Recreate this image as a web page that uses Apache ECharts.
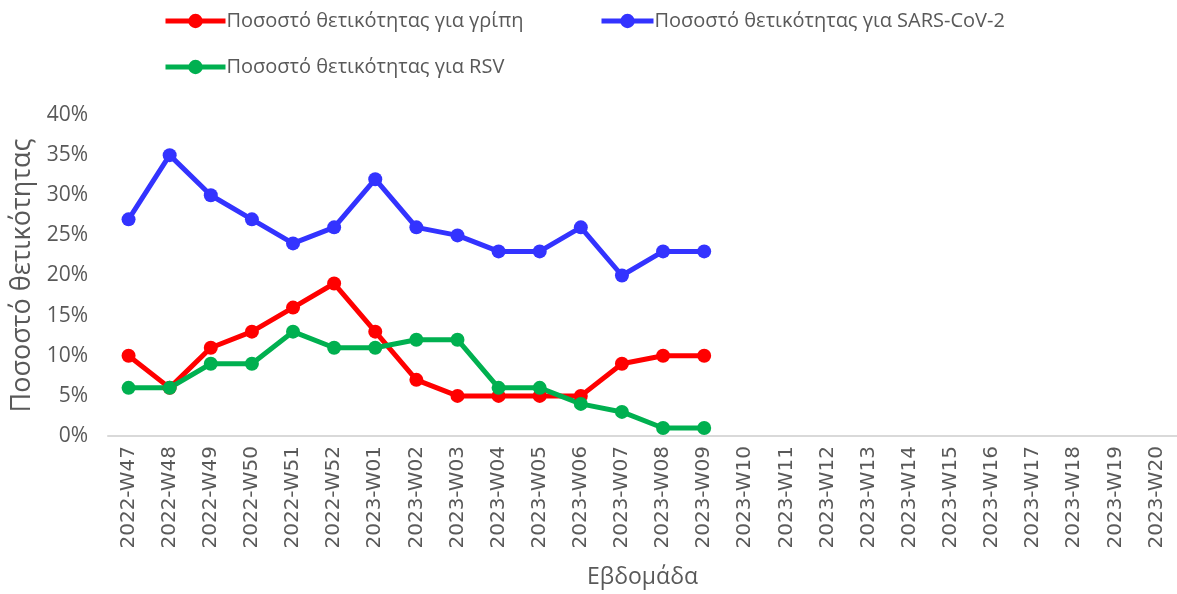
<!DOCTYPE html>
<html>
<head>
<meta charset="utf-8">
<script src="https://cdn.jsdelivr.net/npm/echarts@6/dist/echarts.min.js"></script>
<style>
  html, body { margin: 0; padding: 0; background: #fff; }
  #chart { width: 1177px; height: 594px; }
</style>
</head>
<body>
<div id="chart"></div>
<script>
// weeks on the x axis
const weeks = [
  '2022-W47', '2022-W48', '2022-W49', '2022-W50', '2022-W51', '2022-W52',
  '2023-W01', '2023-W02', '2023-W03', '2023-W04', '2023-W05', '2023-W06',
  '2023-W07', '2023-W08', '2023-W09', '2023-W10', '2023-W11', '2023-W12',
  '2023-W13', '2023-W14', '2023-W15', '2023-W16', '2023-W17', '2023-W18',
  '2023-W19', '2023-W20'
];

// positivity, percent
const fluValues = [10, 6, 11, 13, 16, 19, 13, 7, 5, 5, 5, 5, 9, 10, 10];
const sarsValues = [27, 35, 30, 27, 24, 26, 32, 26, 25, 23, 23, 26, 20, 23, 23];
const rsvValues = [6, 6, 9, 9, 13, 11, 11, 12, 12, 6, 6, 4, 3, 1, 1];

const fluName = 'Ποσοστό θετικότητας για γρίπη';
const sarsName = 'Ποσοστό θετικότητας για SARS-CoV-2';
const rsvName = 'Ποσοστό θετικότητας για RSV';

const font = '"Open Sans", "Noto Sans", sans-serif';
const textColor = '#595959';

const chart = echarts.init(document.getElementById('chart'));

function lineSeries(name, values, color) {
  return {
    name,
    type: 'line',
    data: values,
    symbol: 'circle',
    symbolSize: 14,
    lineStyle: { color, width: 5 },
    itemStyle: { color },
    z: 3
  };
}

// one legend per item so each can sit where it does in the picture
function legendAt(name, left, top, itemWidth) {
  return {
    data: [name],
    left,
    top,
    itemWidth,
    itemHeight: 18,
    lineStyle: { width: 5 },
    textStyle: { color: textColor, fontSize: 20, fontFamily: font, padding: [0, 0, 0, -4] }
  };
}

chart.setOption({
  backgroundColor: '#fff',
  animation: false,
  legend: [
    legendAt(fluName, 158, 6, 60),
    legendAt(sarsName, 594, 6, 52),
    legendAt(rsvName, 158, 52, 60)
  ],
  grid: { left: 108, right: 0, top: 115, bottom: 157 },
  xAxis: {
    type: 'category',
    data: weeks,
    boundaryGap: true,
    axisLine: { lineStyle: { color: '#D9D9D9', width: 2 } },
    axisTick: { show: false },
    axisLabel: {
      rotate: 90,
      interval: 0,
      color: textColor,
      fontSize: 20,
      fontFamily: '"DejaVu Sans", sans-serif',
      margin: 10
    },
    name: 'Εβδομάδα',
    nameLocation: 'middle',
    nameGap: 130,
    nameTextStyle: { color: textColor, fontSize: 23, fontFamily: font }
  },
  yAxis: {
    type: 'value',
    min: 0,
    max: 40,
    interval: 5,
    axisLine: { show: false },
    axisTick: { show: false },
    splitLine: { show: false },
    axisLabel: {
      formatter: '{value}%',
      color: textColor,
      fontSize: 21,
      fontFamily: font,
      margin: 20
    },
    name: 'Ποσοστό θετικότητας',
    nameLocation: 'middle',
    nameGap: 71,
    nameRotate: 90,
    nameTextStyle: { color: textColor, fontSize: 27, fontFamily: font }
  },
  series: [
    lineSeries(fluName, fluValues, '#FF0000'),
    lineSeries(sarsName, sarsValues, '#3333FF'),
    lineSeries(rsvName, rsvValues, '#00B050')
  ]
});
</script>
</body>
</html>
